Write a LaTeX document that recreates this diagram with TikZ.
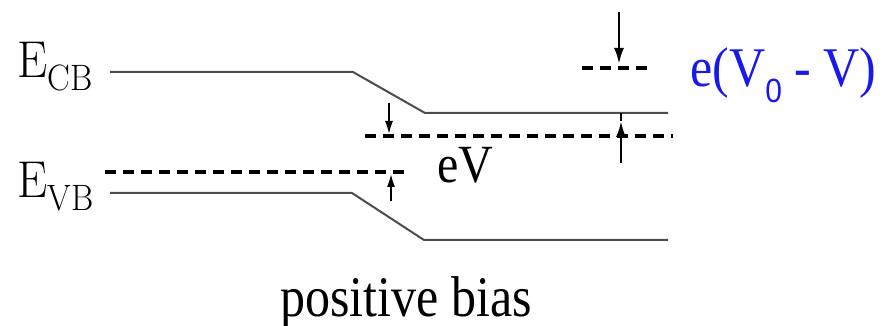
\documentclass[tikz,border=0pt]{standalone}
\usepackage{fontspec}
\setmainfont{Liberation Serif}
\newfontfamily\lmfont{Latin Modern Roman}
\newfontfamily\subfont{Liberation Sans}
\usetikzlibrary{arrows.meta,positioning,calc}
\definecolor{biasblue}{RGB}{25,25,235}

\begin{document}
\begin{tikzpicture}[x=0.5pt, y=-0.5pt, >={Latex[length=8pt,width=5pt]}]

\tikzstyle{band}=[line width=1pt, black!70]
\tikzstyle{fermi}=[line width=1.6pt, dash pattern=on 5.5pt off 3.5pt]
\tikzstyle{gap}=[->, line width=1.3pt]
\tikzstyle{smallgap}=[-{Latex[length=7pt,width=4pt]}, line width=1.2pt]
\tikzstyle{lbl}=[anchor=base west, inner sep=0pt]

\useasboundingbox (0,0) rectangle (885,326);

% band edges
\coordinate (cb0) at (110,72);
\coordinate (cb1) at (353,72);
\coordinate (cb2) at (425,113);
\coordinate (cb3) at (668,113);
\coordinate (vb0) at (110,193);
\coordinate (vb1) at (352,193);
\coordinate (vb2) at (424,240);
\coordinate (vb3) at (668,240);

\draw[band] (cb0) -- (cb1) -- (cb2) -- (cb3);
\draw[band] (vb0) -- (vb1) -- (vb2) -- (vb3);

% fermi levels
\coordinate (fl0) at (105,172);
\coordinate (fl1) at (410,172);
\coordinate (fr0) at (365,136);
\coordinate (fr1) at (673,136);
\coordinate (ft0) at (582,68);
\coordinate (ft1) at (652,68);

\draw[fermi] (fl0) -- (fl1);
\draw[fermi] (fr0) -- (fr1);
\draw[fermi] (ft0) -- (ft1);

% arrows
\coordinate (top0) at (619,12);
\coordinate (top1) at (619,64);
\coordinate (low0) at (621,163);
\coordinate (low1) at (621,121);
\coordinate (low2) at (621,113);
\draw[gap] (top0) -- (top1);
\draw[gap] (low0) -- (low1);
\draw[line width=1pt] (low1) -- (low2);

\coordinate (ev0) at (389,103);
\coordinate (ev1) at (389,135);
\coordinate (ev2) at (391,201);
\coordinate (ev3) at (391,173);
\draw[smallgap] (ev0) -- (ev1);
\draw[smallgap] (ev2) -- (ev3);

% labels
\node[lbl] (ecb) at (17,78) {\scalebox{1}[1.08]{\lmfont\fontsize{24}{24}\selectfont E\raisebox{-6pt}{\fontsize{17}{17}\selectfont CB}}};
\node[lbl] (evb) at (17,198) {\scalebox{1}[1.08]{\lmfont\fontsize{24}{24}\selectfont E\raisebox{-6pt}{\fontsize{17}{17}\selectfont VB}}};
\node[lbl] (ev) at (437,183) {\scalebox{1}[1.12]{\fontsize{24}{24}\selectfont eV}};
\node[lbl, text=biasblue] (dv) at (690,87) {\scalebox{1}[1.12]{\fontsize{25}{25}\selectfont e(V\raisebox{-7pt}{\subfont\fontsize{15}{15}\selectfont 0} - V)}};
\node[lbl] (title) at (280,316) {\scalebox{1}[1.15]{\fontsize{25}{25}\selectfont positive bias}};

\end{tikzpicture}
\end{document}
